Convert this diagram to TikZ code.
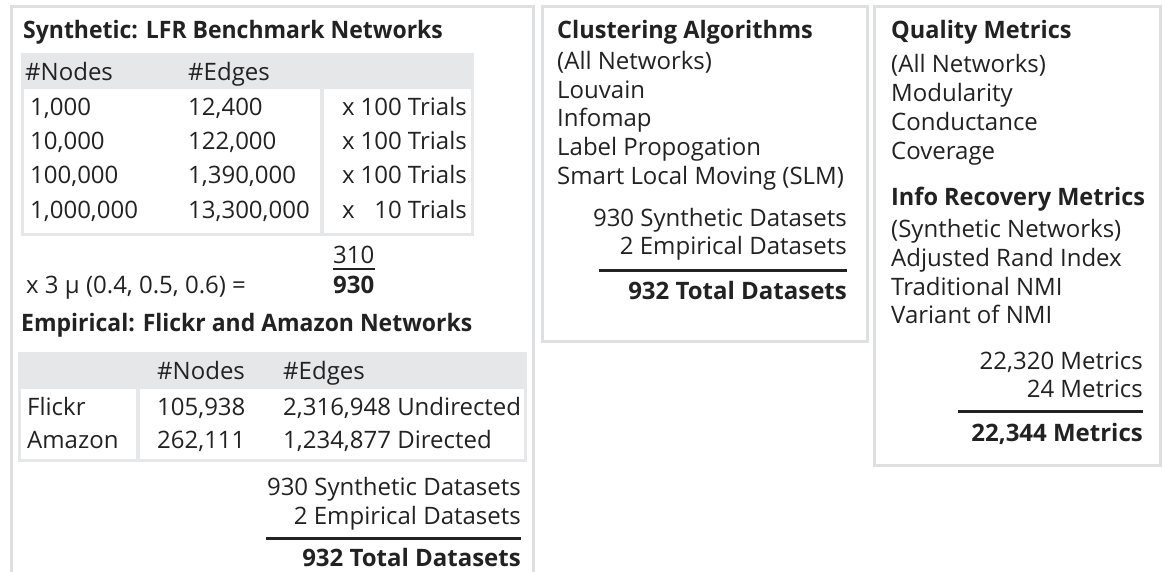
\documentclass[tikz,border=0pt]{standalone}
\usepackage{fontspec}
\setmainfont{Open Sans}
\newfontfamily\ttlA{Open Sans}[FakeStretch=0.957]
\newfontfamily\ttlB{Open Sans}[FakeStretch=0.98]
\definecolor{ink}{HTML}{222222}
\definecolor{boxgray}{HTML}{DEDFE0}
\definecolor{headgray}{HTML}{E6E7E9}
\begin{document}
\begin{tikzpicture}[x=1pt,y=-1pt,
  frame/.style={draw=boxgray, line width=3pt},
  txt/.style={anchor=base west, inner sep=0pt, text=ink, font=\fontsize{24}{29}\selectfont},
  rtxt/.style={anchor=base east, inner sep=0pt, text=ink, font=\fontsize{24}{29}\selectfont},
  ttl/.style={anchor=base west, inner sep=0pt, text=ink, font=\ttlB\bfseries\fontsize{24}{29}\selectfont},
  ttlw/.style={anchor=base west, inner sep=0pt, text=ink, font=\ttlA\bfseries\fontsize{24}{29}\selectfont},
  bnum/.style={anchor=base west, inner sep=0pt, text=ink, font=\bfseries\fontsize{24}{29}\selectfont},
  rttl/.style={anchor=base east, inner sep=0pt, text=ink, font=\bfseries\fontsize{24}{29}\selectfont},
  rulebar/.style={draw=ink, line width=3pt},
  tgray/.style={fill=headgray, draw=none},
  tcell/.style={fill=white, draw=none}]
\useasboundingbox (0,0) rectangle (1163,571);
\clip (0,0) rectangle (1163,571);
\fill[white] (0,0) rectangle (1163,571);

% ---------------- Box 1 ----------------
\draw[frame] (11,6) rectangle (533,620);
\node[ttlw] (t1) at (23,38) {Synthetic: LFR Benchmark Networks};
\fill[tgray] (21,53) rectangle (474,236);
\fill[tcell] (24,89) rectangle (320,233);
\fill[tcell] (324,89) rectangle (471,233);
\node[txt] (h1a) at (25,80) {\#Nodes};
\node[txt] (h1b) at (188,80) {\#Edges};
\node[txt] (n1) at (30,115) {1,000};
\node[txt] (n2) at (30,149) {10,000};
\node[txt] (n3) at (30,183) {100,000};
\node[txt] (n4) at (30,218) {1,000,000};
\node[txt] (e1) at (188,115) {12,400};
\node[txt] (e2) at (188,149) {122,000};
\node[txt] (e3) at (188,183) {1,390,000};
\node[txt] (e4) at (188,218) {13,300,000};
\node[txt] (x1) at (342,115) {x};
\node[txt] (x2) at (342,149) {x};
\node[txt] (x3) at (342,183) {x};
\node[txt] (x4) at (342,218) {x};
\node[rtxt] (r1) at (467,115) {100 Trials};
\node[rtxt] (r2) at (467,149) {100 Trials};
\node[rtxt] (r3) at (467,183) {100 Trials};
\node[rtxt] (r4) at (467,218) {10 Trials};
\node[txt] (mu) at (26,293) {x 3 μ (0.4, 0.5, 0.6) =};
\node[txt] (s310) at (333,263) {310};
\node[bnum] (s930) at (333,293) {930};
\draw[draw=ink, line width=1.5pt] (s310.west |- 0,269) -- (s310.east |- 0,269);
\node[ttlw] (t2) at (21,331) {Empirical: Flickr and Amazon Networks};
\fill[tgray] (18,352) rectangle (527,462);
\fill[tcell] (21,389) rectangle (136,459);
\fill[tcell] (140,389) rectangle (524,459);
\node[txt] (h2a) at (157,379) {\#Nodes};
\node[txt] (h2b) at (283,379) {\#Edges};
\node[txt] (fl) at (27,415) {Flickr};
\node[txt] (am) at (27,448) {Amazon};
\node[txt] (fln) at (157,415) {105,938};
\node[txt] (amn) at (157,448) {262,111};
\node[txt] (fle) at (283,415) {2,316,948 Undirected};
\node[txt] (ame) at (283,448) {1,234,877 Directed};
\node[rtxt] (sy1) at (521,495) {930 Synthetic Datasets};
\node[rtxt] (em1) at (521,524) {2 Empirical Datasets};
\draw[rulebar] (266,538) -- (521,538);
\node[rttl] (to1) at (521,566) {932 Total Datasets};

% ---------------- Box 2 ----------------
\draw[frame] (542,6) rectangle (867,341);
\node[ttl] (t3) at (557,38) {Clustering Algorithms};
\node[txt] (c1) at (557,69) {(All Networks)};
\node[txt] (c2) at (557,98) {Louvain};
\node[txt] (c3) at (557,126) {Infomap};
\node[txt] (c4) at (557,155) {Label Propogation};
\node[txt] (c5) at (557,184) {Smart Local Moving (SLM)};
\node[rtxt] (sy2) at (847,226) {930 Synthetic Datasets};
\node[rtxt] (em2) at (847,254) {2 Empirical Datasets};
\draw[rulebar] (599,270) -- (847,270);
\node[rttl] (to2) at (847,299) {932 Total Datasets};

% ---------------- Box 3 ----------------
\draw[frame] (874,6) rectangle (1160,465);
\node[ttl] (t4) at (891,38) {Quality Metrics};
\node[txt] (q1) at (891,72) {(All Networks)};
\node[txt] (q2) at (891,101) {Modularity};
\node[txt] (q3) at (891,130) {Conductance};
\node[txt] (q4) at (891,159) {Coverage};
\node[ttl] (t5) at (891,205) {Info Recovery Metrics};
\node[txt] (i1) at (891,237) {(Synthetic Networks)};
\node[txt] (i2) at (891,266) {Adjusted Rand Index};
\node[txt] (i3) at (891,295) {Traditional NMI};
\node[txt] (i4) at (891,323) {Variant of NMI};
\node[rtxt] (m1) at (1143,369) {22,320 Metrics};
\node[rtxt] (m2) at (1143,397) {24 Metrics};
\draw[rulebar] (958,411) -- (1143,411);
\node[rttl] (m3) at (1143,441) {22,344 Metrics};
\end{tikzpicture}
\end{document}
